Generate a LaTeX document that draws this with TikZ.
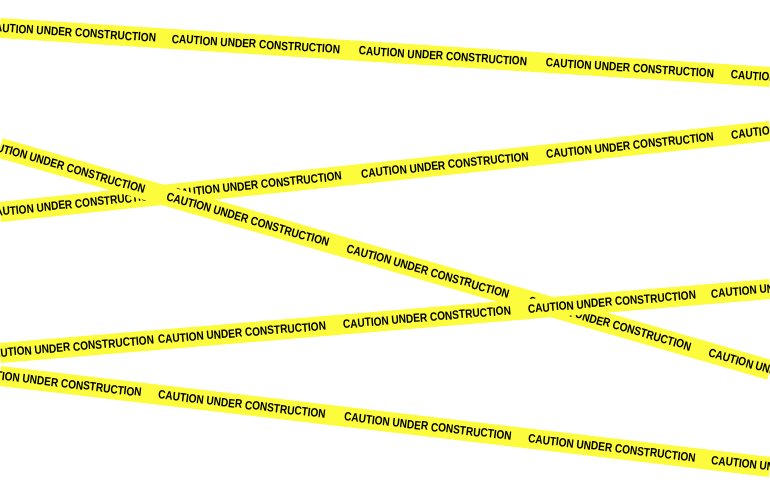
\documentclass[tikz,border=0pt]{standalone}
\usepackage{fontspec}
\setmainfont{Liberation Sans}
\definecolor{tapeyellow}{HTML}{FCFC3C}
\tikzset{
  tape/.style={draw=tapeyellow, line width=20pt},
  tapetext/.style={sloped, inner sep=0pt, font=\bfseries\fontsize{12}{12}\selectfont, xscale=0.84}
}
% one tape from (0,y1) to (770,y2), texts centred at the given x values
\newcommand{\cautiontape}[3]{%
  \draw[tape] (0,#1) -- (770,#2);
  \foreach \cx in {#3} {
    \path (0,#1) -- (770,#2) node[tapetext, pos=\cx/770] {CAUTION UNDER CONSTRUCTION};
  }
}
\begin{document}
\begin{tikzpicture}[x=1pt, y=-1pt]
\useasboundingbox (0,0) rectangle (770,500);
\clip (0,0) rectangle (770,500);

\cautiontape{28}{77}{72,256,443,630,815}
\cautiontape{212}{131}{72,258,445,630,815}
\cautiontape{148}{370}{64,248,428,610,790}
\cautiontape{353}{289}{70,242,427,612,795}
\cautiontape{376}{467}{58,242,428,612,795}

\end{tikzpicture}
\end{document}
